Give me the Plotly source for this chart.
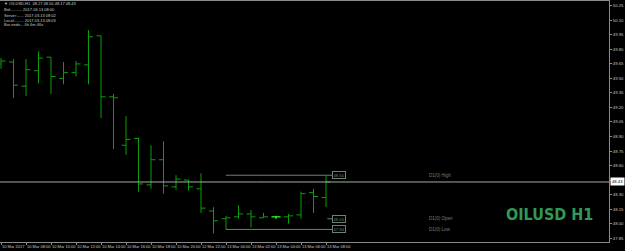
import plotly.graph_objects as go

# ---- data ----
times = ["10 Mar 06:00", "10 Mar 07:00", "10 Mar 08:00", "10 Mar 09:00", "10 Mar 10:00",
         "10 Mar 11:00", "10 Mar 12:00", "10 Mar 13:00", "10 Mar 14:00", "10 Mar 15:00",
         "10 Mar 16:00", "10 Mar 17:00", "10 Mar 18:00", "10 Mar 19:00", "10 Mar 20:00",
         "10 Mar 21:00", "12 Mar 22:00", "12 Mar 23:00", "13 Mar 00:00", "13 Mar 01:00",
         "13 Mar 02:00", "13 Mar 03:00", "13 Mar 04:00", "13 Mar 05:00", "13 Mar 06:00",
         "13 Mar 07:00", "13 Mar 08:00"]
opens  = [49.65, 49.67, 49.42, 49.58, 49.72, 49.50, 49.56, 49.64, 49.94, 49.31,
          48.81, 48.88, 48.40, 48.66, 48.38, 48.45, 48.36, 48.13, 48.05, 48.07,
          48.10, 48.06, 48.07, 48.07, 48.09, 48.32, 48.27]
highs  = [49.71, 49.70, 49.70, 49.78, 49.72, 49.67, 49.68, 50.00, 49.94, 49.34,
          49.11, 48.89, 48.81, 48.85, 48.50, 48.45, 48.52, 48.17, 48.08, 48.19,
          48.14, 48.11, 48.08, 48.10, 48.33, 48.36, 48.50]
lows   = [49.60, 49.30, 49.32, 49.45, 49.34, 49.44, 49.52, 49.44, 49.09, 48.77,
          48.71, 48.33, 48.36, 48.31, 48.35, 48.34, 48.11, 47.90, 47.94, 48.05,
          47.96, 48.06, 48.05, 48.00, 48.05, 48.11, 48.17]
closes = [49.68, 49.43, 49.59, 49.71, 49.52, 49.56, 49.65, 49.93, 49.31, 49.30,
          48.87, 48.41, 48.66, 48.39, 48.46, 48.38, 48.16, 48.03, 48.06, 48.10,
          48.07, 48.07, 48.07, 48.08, 48.31, 48.28, 48.43]

x_tick_labels = ["10 Mar 2017", "10 Mar 08:00", "10 Mar 10:00", "10 Mar 12:00", "10 Mar 14:00",
                 "10 Mar 16:00", "10 Mar 18:00", "10 Mar 20:00", "12 Mar 22:00", "13 Mar 00:00",
                 "13 Mar 02:00", "13 Mar 04:00", "13 Mar 06:00", "13 Mar 08:00"]
y_tick_values = [47.85, 48.00, 48.15, 48.30, 48.45, 48.60, 48.75, 48.90, 49.05,
                 49.20, 49.35, 49.50, 49.65, 49.80, 49.95, 50.10, 50.25]
info_lines = ["\u25bc OILUSD,H1  48.27 48.50 48.17 48.43",
              "Bid:.......... 2017.03.13 08:00",
              "Server:...... 2017.03.13 08:02",
              "Local:........ 2017.03.13 08:03",
              "Bar ends:.. 0h 6m 46s"]
day_start = "13 Mar 00:00"

# ---- derived ----
idx = list(range(len(times)))
d0 = times.index(day_start)
d1_open = opens[d0]
d1_high = max(highs[d0:])
d1_low = min(lows[d0:])
last = closes[-1]
tick_idx = [i for i in idx if i % 2 == 0]

GREEN = "#0a9e0a"
DIM = "#6f806f"
GRID = "#8a8a8a"
TXT = "#c8c8c8"
FONT = "Liberation Sans, DejaVu Sans, sans-serif"

W, H = 625, 251
L, R, T, B = 0, 16, 1, 9
PW, PH = W - L - R, H - T - B


def px_x(x):
    return (x - L) / PW


def px_y(y):
    return (H - B - y) / PH


fig = go.Figure()
fig.add_trace(go.Ohlc(x=idx, open=opens, high=highs, low=lows, close=closes,
                      increasing=dict(line=dict(color=GREEN, width=1)),
                      decreasing=dict(line=dict(color=GREEN, width=1)),
                      tickwidth=0.36, hoverinfo="skip"))
doji = [i for i in idx if opens[i] == closes[i]]
if doji:
    fig.add_trace(go.Ohlc(x=doji, open=[opens[i] for i in doji], high=[highs[i] for i in doji],
                          low=[lows[i] for i in doji], close=[closes[i] for i in doji],
                          increasing=dict(line=dict(color="#2cff2c", width=1)),
                          decreasing=dict(line=dict(color="#2cff2c", width=1)),
                          tickwidth=0.36, hoverinfo="skip"))

shapes = [
    dict(type="line", xref="paper", yref="y", x0=0, x1=1, y0=last, y1=last,
         line=dict(color="#a8a8a8", width=1)),
    dict(type="line", xref="x", yref="y", x0=d0, x1=len(idx) - 0.5, y0=d1_high, y1=d1_high,
         line=dict(color=DIM, width=1)),
    dict(type="line", xref="x", yref="y", x0=d0, x1=len(idx) - 0.5, y0=d1_low, y1=d1_low,
         line=dict(color=DIM, width=1)),
    dict(type="line", xref="x", yref="y", x0=len(idx) - 0.9, x1=len(idx) - 0.5, y0=d1_open, y1=d1_open,
         line=dict(color=DIM, width=1)),
]

ann = []
for name, val in [("High", d1_high), ("Open", d1_open), ("Low", d1_low)]:
    ann.append(dict(x=len(idx) - 0.5, y=val, xref="x", yref="y", text=f"{val:.2f}",
                    showarrow=False, xanchor="left", yanchor="middle",
                    font=dict(size=4.2, color=DIM, family=FONT),
                    bordercolor=DIM, borderwidth=1, borderpad=0.5, bgcolor="black"))
    ann.append(dict(x=len(idx) + 7.1, y=val, xref="x", yref="y", text=f"D1(0) {name}",
                    showarrow=False, xanchor="left", yanchor="middle",
                    font=dict(size=4.5, color=DIM, family=FONT)))
# current price box
ann.append(dict(x=1, y=last, xref="paper", yref="y", text=f"{last:.2f}", showarrow=False,
                xanchor="left", yanchor="middle", xshift=1,
                font=dict(size=4.2, color="black", family=FONT), bgcolor="white", borderpad=1))
# info lines (top-left)
info_y = [4, 10, 15, 20, 25]
for k, line in enumerate(info_lines):
    ann.append(dict(x=px_x(2), y=px_y(info_y[k]), xref="paper", yref="paper",
                    text=line, showarrow=False, xanchor="left", yanchor="middle",
                    font=dict(size=4, color=TXT, family=FONT)))
# big watermark
ann.append(dict(x=px_x(549), y=px_y(214), xref="paper", yref="paper", text="<b>OILUSD H1</b>",
                showarrow=False, xanchor="center", yanchor="middle",
                font=dict(size=16, color="#2f9a55",
                          family="Liberation Sans Narrow, DejaVu Sans Condensed, Arial Narrow, sans-serif")))

y_tick_text = ["" if abs(v - last) < 0.05 else f"{v:.2f}" for v in y_tick_values]

fig.update_layout(
    width=W, height=H,
    margin=dict(l=L, r=R, t=T, b=B, autoexpand=False),
    paper_bgcolor="black", plot_bgcolor="black",
    showlegend=False, hovermode=False, dragmode=False,
    shapes=shapes, annotations=ann,
    xaxis=dict(range=[-0.08, 48.64], tickmode="array", tickvals=tick_idx,
               ticktext=x_tick_labels, ticks="outside", ticklen=2, tickcolor=GRID,
               ticklabelposition="outside right", tickangle=0, automargin=False,
               tickfont=dict(size=4, color=TXT, family=FONT),
               showgrid=False, zeroline=False, showline=True, linecolor=GRID,
               linewidth=1, mirror=True, rangeslider=dict(visible=False), fixedrange=True,
               showspikes=False),
    yaxis=dict(range=[47.81, 50.30], side="right", tickmode="array",
               tickvals=y_tick_values, ticktext=y_tick_text, automargin=False,
               ticks="outside", ticklen=2, tickcolor=GRID,
               tickfont=dict(size=4.2, color=TXT, family=FONT),
               showgrid=False, zeroline=False, showline=True, linecolor=GRID,
               linewidth=1, mirror=True, fixedrange=True, showspikes=False),
)

fig.write_html("out.html", config={"displayModeBar": False})
